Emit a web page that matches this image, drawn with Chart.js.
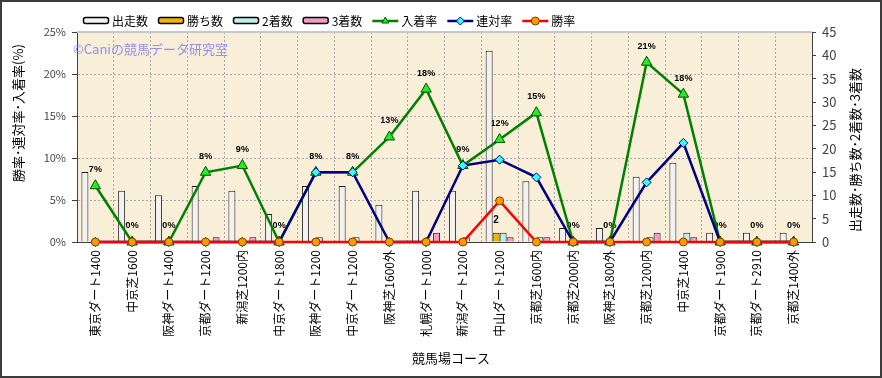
<!DOCTYPE html>
<html lang="ja">
<head>
<meta charset="UTF-8">
<title>競馬場コース別成績</title>
<style>
    body { margin: 0; background: #ffffff; }
    #chart { display: block; }
</style>
</head>
<body>
<canvas id="chart" width="882" height="378"></canvas>
<script src="https://cdn.jsdelivr.net/npm/chart.js"></script>
<script>
    // data
    const courses = [
        "東京ダート1400", "中京芝1600", "阪神ダート1400", "京都ダート1200", "新潟芝1200内",
        "中京ダート1800", "阪神ダート1200", "中京ダート1200", "阪神芝1600外", "札幌ダート1000",
        "新潟ダート1200", "中山ダート1200", "京都芝1600内", "京都芝2000内", "阪神芝1800外",
        "京都芝1200内", "中京芝1400", "京都ダート1900", "京都ダート2910", "京都芝1400外"
    ];
    const runs    = [15, 11, 10, 12, 11, 6, 12, 12, 8, 11, 11, 41, 13, 3, 3, 14, 17, 2, 2, 2];
    const wins    = [0, 0, 0, 0, 0, 0, 0, 0, 0, 0, 0, 2, 0, 0, 0, 0, 0, 0, 0, 0];
    const seconds = [0, 0, 0, 0, 0, 0, 1, 1, 0, 0, 1, 2, 1, 0, 0, 1, 2, 0, 0, 0];
    const thirds  = [0, 0, 0, 1, 1, 0, 0, 0, 0, 2, 0, 1, 1, 0, 0, 2, 1, 0, 0, 0];
    const placeRate    = [6.7, 0, 0, 8.3, 9.1, 0, 8.3, 8.3, 12.5, 18.2, 9.1, 12.2, 15.4, 0, 0, 21.4, 17.6, 0, 0, 0];
    const quinellaRate = [0, 0, 0, 0, 0, 0, 8.3, 8.3, 0, 0, 9.1, 9.8, 7.7, 0, 0, 7.1, 11.8, 0, 0, 0];
    const winRate      = [0, 0, 0, 0, 0, 0, 0, 0, 0, 0, 0, 4.9, 0, 0, 0, 0, 0, 0, 0, 0];

    const JP = '"Noto Sans CJK JP", "Noto Sans", sans-serif';

    const decor = {
        id: "decor",
        beforeDraw(chart) {
            const { ctx, chartArea: a } = chart;
            ctx.save();
            ctx.fillStyle = "#ffffff";
            ctx.fillRect(0, 0, chart.width, chart.height);
            ctx.fillStyle = "#f9eed8";
            ctx.fillRect(a.left, a.top, a.right - a.left, a.bottom - a.top);
            ctx.restore();
        },
        beforeDatasetsDraw(chart) {
            const ctx = chart.ctx;
            ctx.save();
            // watermark
            ctx.font = "13px " + JP;
            ctx.fillStyle = "rgba(120, 120, 250, 0.8)";
            ctx.textAlign = "left";
            ctx.textBaseline = "middle";
            ctx.fillText("©Caniの競馬データ研究室", 73, 49);
            // percentage labels above the 入着率 points
            const meta = chart.getDatasetMeta(4);
            ctx.font = 'bold 9px "Liberation Sans", Arial, sans-serif';
            ctx.fillStyle = "#000000";
            ctx.textAlign = "center";
            meta.data.forEach((pt, i) => {
                ctx.fillText(Math.round(placeRate[i]) + "%", pt.x, pt.y - 16);
            });
            ctx.restore();
        },
        afterDatasetsDraw(chart) {
            const ctx = chart.ctx;
            ctx.save();
            ctx.font = 'bold 10px "Liberation Sans", Arial, sans-serif';
            ctx.fillStyle = "#000000";
            ctx.textAlign = "center";
            ctx.textBaseline = "middle";
            chart.getDatasetMeta(1).data.forEach((bar, i) => {
                if (wins[i] > 0) ctx.fillText(wins[i], bar.x, bar.y - 12);
            });
            ctx.restore();
        },
        afterDraw(chart) {
            const { ctx, chartArea: a } = chart;
            ctx.save();
            // light top edge of the plot
            ctx.strokeStyle = "#c8c8c8";
            ctx.lineWidth = 2;
            ctx.beginPath();
            ctx.moveTo(a.left, a.top);
            ctx.lineTo(a.right, a.top);
            ctx.stroke();

            // axis titles
            ctx.fillStyle = "#000000";
            ctx.font = "13px " + JP;
            ctx.textAlign = "center";
            ctx.textBaseline = "middle";
            ctx.fillText("競馬場コース", 451, 358);

            ctx.save();
            ctx.translate(18, 113);
            ctx.rotate(-Math.PI / 2);
            ctx.fillText("勝率･連対率･入着率(%)", 0, 0);
            ctx.restore();

            ctx.save();
            ctx.translate(855, 150);
            ctx.rotate(-Math.PI / 2);
            ctx.fillText("出走数･勝ち数･2着数･3着数", 0, 0);
            ctx.restore();

            // legend
            const legendOrder = [0, 1, 2, 3, 4, 5, 6];
            let x = 83;
            const y = 21;
            ctx.font = "12px " + JP;
            ctx.textAlign = "left";
            legendOrder.forEach(idx => {
                const ds = chart.data.datasets[idx];
                if (ds.type === "bar") {
                    ctx.fillStyle = ds.backgroundColor;
                    ctx.strokeStyle = "#000000";
                    ctx.lineWidth = 1.5;
                    ctx.beginPath();
                    ctx.roundRect(x + 0.5, y - 3.5, 25, 6, 2);
                    ctx.fill();
                    ctx.stroke();
                } else {
                    ctx.strokeStyle = ds.borderColor;
                    ctx.lineWidth = 2.5;
                    ctx.beginPath();
                    ctx.moveTo(x, y);
                    ctx.lineTo(x + 26, y);
                    ctx.stroke();
                    ctx.fillStyle = ds.pointBackgroundColor;
                    ctx.strokeStyle = ds.pointBorderColor;
                    ctx.lineWidth = 1;
                    Chart.helpers.drawPoint(ctx, {
                        pointStyle: ds.pointStyle, radius: 4, rotation: 0, borderWidth: 1
                    }, x + 13, y);
                }
                x += 29;
                ctx.fillStyle = "#000000";
                ctx.fillText(ds.label, x, y);
                x += ctx.measureText(ds.label).width + 10;
            });

            // outer frame
            ctx.strokeStyle = "#3c3c3c";
            ctx.lineWidth = 2;
            ctx.strokeRect(1, 1, chart.width - 2, chart.height - 2);
            ctx.restore();
        }
    };

    function barSet(label, data, color) {
        return {
            type: "bar", label: label, data: data, yAxisID: "y1", order: 10,
            backgroundColor: color, borderColor: "#1a1a1a", borderWidth: 1,
            categoryPercentage: 0.76, barPercentage: 1.0
        };
    }

    function lineSet(label, data, color, style, fill, edge, radius, order) {
        return {
            type: "line", label: label, data: data, yAxisID: "y", order: order,
            borderColor: color, borderWidth: 2.5, tension: 0, clip: false,
            pointStyle: style, pointRadius: radius, pointBackgroundColor: fill,
            pointBorderColor: edge, pointBorderWidth: 1
        };
    }

    new Chart(document.getElementById("chart"), {
        data: {
            labels: courses,
            datasets: [
                barSet("出走数", runs, "#f2f2f2"),
                barSet("勝ち数", wins, "#f0b400"),
                barSet("2着数", seconds, "#bfeeee"),
                barSet("3着数", thirds, "#f09cc8"),
                lineSet("入着率", placeRate, "#008000", "triangle", "#22ee22", "#005000", 6, 3),
                lineSet("連対率", quinellaRate, "#000080", "rectRot", "#33ffff", "#000080", 4.5, 2),
                lineSet("勝率", winRate, "#ff0000", "circle", "#ff9900", "#7a4000", 4, 1)
            ]
        },
        options: {
            responsive: false,
            animation: false,
            layout: { padding: { top: 32, left: 0, right: 0, bottom: 0 } },
            plugins: {
                legend: { display: false },
                tooltip: { enabled: false }
            },
            scales: {
                x: {
                    offset: true,
                    grid: { offset: true, color: "#a8a8a8", drawTicks: false },
                    border: { color: "#404040", dash: [2, 2] },
                    ticks: {
                        autoSkip: false, minRotation: 90, maxRotation: 90, padding: 8,
                        color: "#000000", font: { family: JP, size: 12 }
                    },
                    afterFit(scale) { scale.height = 136; }
                },
                y: {
                    position: "left", min: 0, max: 25,
                    grid: { color: "#a8a8a8", tickLength: 5, tickColor: "#404040" },
                    border: { color: "#404040", dash: [2, 2] },
                    ticks: {
                        stepSize: 5, padding: 6, color: "#444444",
                        font: { family: JP, size: 11 },
                        callback: v => v + "%"
                    },
                    afterFit(scale) { scale.width = 77; }
                },
                y1: {
                    position: "right", min: 0, max: 45,
                    grid: { drawOnChartArea: false, tickLength: 4, tickColor: "#404040" },
                    border: { color: "#404040" },
                    ticks: {
                        stepSize: 5, padding: 6, color: "#444444",
                        font: { family: JP, size: 13 }
                    },
                    afterFit(scale) { scale.width = 70; }
                }
            }
        },
        plugins: [decor]
    });
</script>
</body>
</html>
